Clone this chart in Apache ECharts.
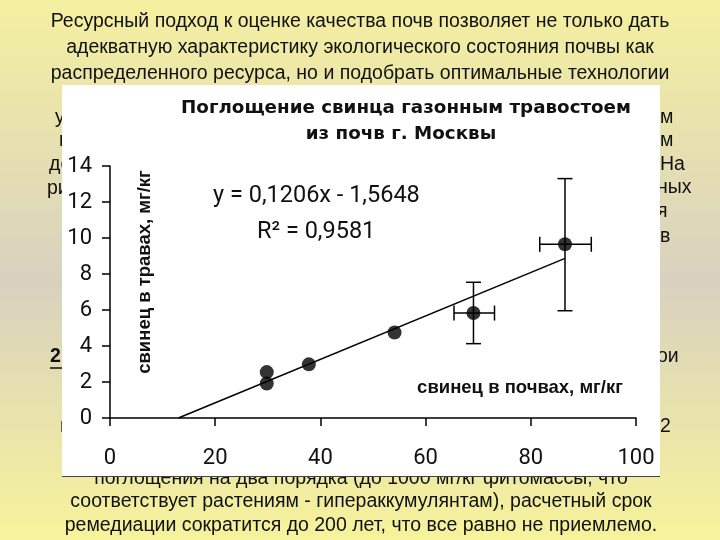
<!DOCTYPE html>
<html>
<head>
<meta charset="utf-8">
<script src="https://cdn.jsdelivr.net/npm/echarts@6/dist/echarts.min.js"></script>
<style>html,body{margin:0;padding:0;background:#fff}#c{width:720px;height:540px}</style>
</head>
<body>
<div id="c"></div>
<script>
// ---- data ----
var soilPb  = [29.8, 29.8, 37.8, 54.1, 69.1, 86.5];      // свинец в почвах, мг/кг
var grassPb = [2.55, 1.92, 2.98, 4.75, 5.83, 9.65];      // свинец в травах, мг/кг
// error bars
var errX    = [69.1, 86.5];
var errY    = [5.83, 9.65];
var errXLow = [65.4, 81.7];
var errXHi  = [73.1, 91.5];
var errYLow = [4.13, 5.96];
var errYHi  = [7.54, 13.3];
// trend line end points
var trendX  = [13.0, 86.5];
var trendY  = [0.0, 8.87];
var xTicks  = [0, 20, 40, 60, 80, 100];
var yTicks  = [0, 2, 4, 6, 8, 10, 12, 14];

var titleLines = ['Поглощение свинца газонным травостоем', 'из почв г. Москвы'];
var eqLine1 = 'y = 0,1206x - 1,5648';
var eqLine2 = 'R² = 0,9581';
var xName = 'свинец в почвах, мг/кг';
var yName = 'свинец в травах, мг/кг';

var topText = [
  'Ресурсный подход к оценке качества почв позволяет не только дать',
  'адекватную характеристику экологического состояния почвы как',
  'распределенного ресурса, но и подобрать оптимальные технологии'
];
var bottomText = [
  'поглощения на два порядка (до 1000 мг/кг фитомассы, что',
  'соответствует растениям - гипераккумулянтам), расчетный срок',
  'ремедиации сократится до 200 лет, что все равно не приемлемо.'
];

var chart = echarts.init(document.getElementById('c'), null, {renderer: 'canvas'});

var bgFont = '19.5px "Liberation Sans", Arial, sans-serif';
var graphics = [];
var topY = [22, 48, 74];
topText.forEach(function (t, i) {
  graphics.push({type: 'text', z: -30, x: 360, y: topY[i],
    style: {text: t, font: bgFont, fill: '#111', textAlign: 'center', textVerticalAlign: 'middle'}});
});
var botY = [479, 502, 526];
bottomText.forEach(function (t, i) {
  graphics.push({type: 'text', z: -30, x: 361, y: botY[i],
    style: {text: t, font: bgFont, fill: '#111', textAlign: 'center', textVerticalAlign: 'middle'}});
});
var frags = [
  ['у', 55, 118], ['п', 59, 141], ['до', 49, 165], ['ри', 47, 189], ['п', 60, 427],
  ['м', 660, 118], ['м', 660, 141], ['На', 660, 165], ['ных', 657, 188], ['я', 657, 212], ['в', 660, 237],
  ['ои', 657, 357], ['2', 660, 427]
];
frags.forEach(function (f) {
  graphics.push({type: 'text', z: -30, x: f[1], y: f[2],
    style: {text: f[0], font: bgFont, fill: '#111', textAlign: 'left', textVerticalAlign: 'middle'}});
});
graphics.push({type: 'text', z: -30, x: 50, y: 357,
  style: {text: '2', font: 'bold 19.5px "Liberation Sans", Arial, sans-serif', fill: '#111', textAlign: 'left', textVerticalAlign: 'middle'}});
graphics.push({type: 'line', z: -30, shape: {x1: 50, y1: 368, x2: 64, y2: 368}, style: {stroke: '#111', lineWidth: 1.5}});
// white chart box
graphics.push({type: 'rect', z: -20, shape: {x: 62, y: 85, width: 598, height: 391}, style: {fill: '#ffffff'}});
graphics.push({type: 'line', z: -19, shape: {x1: 62, y1: 476.5, x2: 660, y2: 476.5}, style: {stroke: '#444', lineWidth: 1}});
// chart title
var tFont = 'bold 18.3px "DejaVu Sans", sans-serif';
graphics.push({type: 'text', z: 10, x: 406, y: 108, style: {text: titleLines[0], font: tFont, fill: '#111', textAlign: 'center', textVerticalAlign: 'middle'}});
graphics.push({type: 'text', z: 10, x: 401, y: 134, style: {text: titleLines[1], font: tFont, fill: '#111', textAlign: 'center', textVerticalAlign: 'middle'}});
// equation
var eFont = '23.5px Roboto, "Liberation Sans", sans-serif';
graphics.push({type: 'text', z: 10, x: 213, y: 196, style: {text: eqLine1, font: eFont, fill: '#111', textAlign: 'left', textVerticalAlign: 'middle'}});
graphics.push({type: 'text', z: 10, x: 257, y: 232, style: {text: eqLine2, font: eFont, fill: '#111', textAlign: 'left', textVerticalAlign: 'middle'}});
// axis names
var nFont = 'bold 18.5px "Liberation Sans", Arial, sans-serif';
graphics.push({type: 'text', z: 10, x: 520, y: 388, style: {text: xName, font: nFont, fill: '#111', textAlign: 'center', textVerticalAlign: 'middle'}});
graphics.push({type: 'text', z: 10, x: 145, y: 272, rotation: Math.PI / 2, style: {text: yName, font: nFont, fill: '#111', textAlign: 'center', textVerticalAlign: 'middle'}});

var errData = errX.map(function (x, i) { return [x, errY[i], errXLow[i], errXHi[i], errYLow[i], errYHi[i]]; });

var axisCommon = {
  type: 'value',
  axisLine: {show: true, onZero: false, lineStyle: {color: '#000', width: 1.5}},
  axisTick: {show: true, inside: false, length: 8, lineStyle: {color: '#000', width: 1.5}},
  splitLine: {show: false},
  axisLabel: {color: '#111', fontSize: 22, fontFamily: 'Roboto, "Liberation Sans", sans-serif'}
};

var option = {
  animation: false,
  backgroundColor: {type: 'linear', x: 0, y: 0, x2: 0, y2: 1,
    colorStops: [{offset: 0, color: '#f5f0a0'}, {offset: 0.52, color: '#d9d1bf'}, {offset: 1, color: '#f7f39b'}]},
  graphic: {elements: graphics},
  grid: {left: 110, right: 84, top: 166, bottom: 122, containLabel: false},
  xAxis: echarts.util.merge({min: xTicks[0], max: xTicks[xTicks.length - 1], interval: xTicks[1] - xTicks[0],
    axisLabel: {margin: 29}}, axisCommon),
  yAxis: echarts.util.merge({min: yTicks[0], max: yTicks[yTicks.length - 1], interval: yTicks[1] - yTicks[0],
    axisLabel: {margin: 18}}, axisCommon),
  series: [
    {type: 'line', data: trendX.map(function (x, i) { return [x, trendY[i]]; }), symbol: 'none',
      lineStyle: {color: '#000', width: 1.5}, z: 2},
    {type: 'custom', z: 3, data: errData,
      renderItem: function (params, api) {
        var c = api.coord([api.value(0), api.value(1)]);
        var xl = api.coord([api.value(2), api.value(1)]);
        var xh = api.coord([api.value(3), api.value(1)]);
        var yl = api.coord([api.value(0), api.value(4)]);
        var yh = api.coord([api.value(0), api.value(5)]);
        var cap = 7.5;
        var st = {stroke: '#000', lineWidth: 1.5};
        return {type: 'group', children: [
          {type: 'line', shape: {x1: c[0], y1: yl[1], x2: c[0], y2: yh[1]}, style: st},
          {type: 'line', shape: {x1: c[0] - cap, y1: yl[1], x2: c[0] + cap, y2: yl[1]}, style: st},
          {type: 'line', shape: {x1: c[0] - cap, y1: yh[1], x2: c[0] + cap, y2: yh[1]}, style: st},
          {type: 'line', shape: {x1: xl[0], y1: c[1], x2: xh[0], y2: c[1]}, style: st},
          {type: 'line', shape: {x1: xl[0], y1: c[1] - cap, x2: xl[0], y2: c[1] + cap}, style: st},
          {type: 'line', shape: {x1: xh[0], y1: c[1] - cap, x2: xh[0], y2: c[1] + cap}, style: st}
        ]};
      }},
    {type: 'scatter', z: 4, data: soilPb.map(function (x, i) { return [x, grassPb[i]]; }),
      symbol: 'circle', symbolSize: 14, itemStyle: {color: '#000'}}
  ]
};
chart.setOption(option);
</script>
</body>
</html>
